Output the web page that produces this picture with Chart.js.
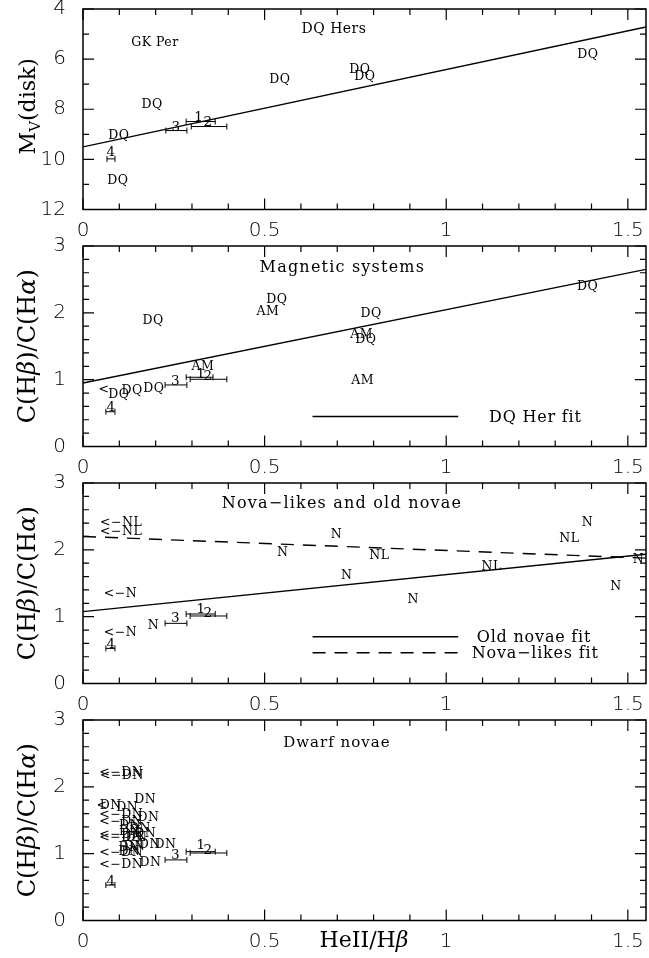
<!DOCTYPE html>
<html><head><meta charset="utf-8">
<script src="https://cdn.jsdelivr.net/npm/chart.js@4/dist/chart.umd.min.js"></script>
<style>
html,body{margin:0;padding:0;background:#fff;width:649px;height:958px;overflow:hidden}
canvas{position:absolute;left:0}
</style></head><body>
<canvas id="c1" width="649" height="237" style="top:0"></canvas>
<canvas id="c2" width="649" height="237" style="top:237px"></canvas>
<canvas id="c3" width="649" height="237" style="top:474px"></canvas>
<canvas id="c4" width="649" height="247" style="top:711px"></canvas>
<script>
// ---------- tick labels ----------
const xTicks = [0, 0.5, 1, 1.5];
const mvTicks = [4, 6, 8, 10, 12];
const ratioTicks = [0, 1, 2, 3];

// ---------- panel 1 : DQ Hers, Mv(disk) ----------
const dqMvLabels = [
  ['DQ', 0.542, 6.82], ['DQ', 0.19, 7.82], ['DQ', 0.099, 9.05], ['DQ', 0.096, 10.84],
  ['DQ', 0.762, 6.42], ['DQ', 0.776, 6.70], ['DQ', 1.39, 5.82], ['GK Per', 0.198, 5.34]
];
const dqMvFit = [{x: 0, y: 9.5}, {x: 1.55, y: 4.72}];
const dqMvErrBars = [[0.284, 0.364, 8.49], [0.298, 0.396, 8.69], [0.228, 0.286, 8.85], [0.066, 0.088, 9.98]];
const dqMvErrLabels = [['1', 0.319, 8.33], ['2', 0.344, 8.53], ['3', 0.256, 8.72], ['4', 0.077, 9.73]];

// ---------- panel 2 : Magnetic systems ----------
const magLabels = [
  ['DQ', 0.193, 1.88], ['DQ', 0.534, 2.19], ['AM', 0.509, 2.01], ['AM', 0.330, 1.19],
  ['DQ', 0.195, 0.87], ['DQ', 0.135, 0.84], ['<', 0.058, 0.85], ['DQ', 0.099, 0.77],
  ['DQ', 0.793, 1.99], ['AM', 0.767, 1.67], ['DQ', 0.779, 1.59], ['AM', 0.770, 0.98],
  ['DQ', 1.389, 2.39]
];
const magFit = [{x: 0, y: 0.95}, {x: 1.55, y: 2.65}];
const magLegendLine = [{x: 0.632, y: 0.448}, {x: 1.033, y: 0.448}];
const magErrBars = [[0.284, 0.358, 1.036], [0.295, 0.396, 1.006], [0.226, 0.286, 0.921], [0.063, 0.088, 0.52]];
const magErrLabels = [['1', 0.325, 1.08], ['2', 0.344, 1.045], ['3', 0.255, 0.97], ['4', 0.077, 0.58]];

// ---------- panel 3 : Nova-likes and old novae ----------
const novaLabels = [
  ['<\u2212NL', 0.105, 2.40], ['<\u2212NL', 0.105, 2.27], ['N', 0.55, 1.96], ['<\u2212N', 0.103, 1.34],
  ['N', 0.194, 0.864], ['<\u2212N', 0.103, 0.76], ['N', 0.698, 2.22], ['NL', 0.816, 1.91],
  ['N', 0.726, 1.61], ['N', 0.909, 1.26], ['NL', 1.125, 1.75], ['NL', 1.339, 2.16],
  ['N', 1.389, 2.40], ['N', 1.529, 1.85], ['N', 1.467, 1.45]
];
const oldNovaFit = [{x: 0, y: 1.075}, {x: 1.55, y: 1.935}];
const novaLikeFit = [{x: 0, y: 2.2}, {x: 1.55, y: 1.875}];
const oldNovaLegendLine = [{x: 0.632, y: 0.70}, {x: 1.033, y: 0.70}];
const novaLikeLegendLine = [{x: 0.632, y: 0.46}, {x: 1.033, y: 0.46}];
const novaErrBars = [[0.284, 0.364, 1.04], [0.295, 0.396, 1.01], [0.226, 0.286, 0.90], [0.063, 0.088, 0.525]];
const novaErrLabels = [['1', 0.325, 1.11], ['2', 0.344, 1.05], ['3', 0.255, 0.975], ['4', 0.077, 0.585]];

// ---------- panel 4 : Dwarf novae ----------
const dnLabels = [
  ['<\u2212DN', 0.105, 2.21], ['<\u2212DN', 0.107, 2.17], ['<', 0.052, 1.71], ['DN', 0.076, 1.71],
  ['DN', 0.122, 1.68], ['DN', 0.171, 1.80], ['<\u2212DN', 0.105, 1.58], ['DN', 0.18, 1.535],
  ['<\u2212DN', 0.105, 1.48], ['DN', 0.129, 1.415], ['DN', 0.157, 1.37], ['DN', 0.129, 1.325],
  ['DN', 0.171, 1.30], ['<\u2212DN', 0.105, 1.28], ['<\u2212DN', 0.105, 1.24], ['DN', 0.147, 1.237],
  ['DN', 0.142, 1.106], ['DN', 0.184, 1.13], ['DN', 0.227, 1.13], ['DN', 0.128, 1.087],
  ['<\u2212DN', 0.105, 1.007], ['DN', 0.128, 1.027], ['<\u2212DN', 0.105, 0.833], ['DN', 0.186, 0.867]
];
const dnErrBars = [[0.284, 0.364, 1.03], [0.295, 0.396, 1.01], [0.226, 0.286, 0.907], [0.063, 0.088, 0.53]];
const dnErrLabels = [['1', 0.325, 1.12], ['2', 0.344, 1.046], ['3', 0.255, 0.967], ['4', 0.077, 0.583]];

// ---------- drawing ----------
const SERIF = '"DejaVu Serif", serif';
const SANS = '"DejaVu Sans ExtraLight", "DejaVu Sans", sans-serif';
const xMinor = []; for (let i = 0; i <= 15; i++) xMinor.push(i / 10);
const mvMinor = []; for (let i = 4; i <= 12; i++) mvMinor.push(i);
const ratioMinor = []; for (let i = 0; i <= 15; i++) ratioMinor.push(i / 5);
const isMaj = (v, arr) => arr.some(t => Math.abs(t - v) < 1e-6);

function text(ctx, s, x, y, size, align, base) {
  ctx.font = size + 'px ' + SERIF;
  ctx.textAlign = align || 'center';
  ctx.textBaseline = base || 'middle';
  ctx.fillText(s, x, y);
}
function runs(ctx, parts, size) {
  let w = 0;
  parts.forEach(p => { ctx.font = (p[1] ? 'italic ' : '') + (p[2] || size) + 'px ' + SERIF; w += ctx.measureText(p[0]).width; });
  return w;
}
function drawRuns(ctx, parts, size, x0, base) {
  let x = x0;
  parts.forEach(p => {
    ctx.font = (p[1] ? 'italic ' : '') + (p[2] || size) + 'px ' + SERIF;
    ctx.textAlign = 'left'; ctx.textBaseline = 'alphabetic';
    ctx.fillText(p[0], x, base + (p[3] || 0));
    x += ctx.measureText(p[0]).width;
  });
}

function draw(chart, cfg) {
  const ctx = chart.ctx, xs = chart.scales.x, ys = chart.scales.y, a = chart.chartArea;
  const X = v => xs.getPixelForValue(v), Y = v => ys.getPixelForValue(v);
  ctx.save();
  ctx.strokeStyle = '#000'; ctx.fillStyle = '#000';
  ctx.lineWidth = 1.2;
  ctx.beginPath();
  xMinor.forEach(v => {
    const p = X(v), L = isMaj(v, xTicks) ? 11 : 6;
    ctx.moveTo(p, a.bottom); ctx.lineTo(p, a.bottom - L);
    ctx.moveTo(p, a.top); ctx.lineTo(p, a.top + L);
  });
  cfg.yMinor.forEach(v => {
    const p = Y(v), L = isMaj(v, cfg.yTicks) ? 11 : 6;
    ctx.moveTo(a.left, p); ctx.lineTo(a.left + L, p);
    ctx.moveTo(a.right, p); ctx.lineTo(a.right - L, p);
  });
  ctx.stroke();
  ctx.lineWidth = 1.5;
  ctx.strokeRect(a.left, a.top, a.right - a.left, a.bottom - a.top);
  ctx.lineWidth = 1;
  cfg.errs.forEach(([x0, x1, y]) => {
    const p0 = X(x0), p1 = X(x1), py = Y(y);
    ctx.beginPath();
    ctx.moveTo(p0, py); ctx.lineTo(p1, py);
    ctx.moveTo(p0, py - 3); ctx.lineTo(p0, py + 3);
    ctx.moveTo(p1, py - 3); ctx.lineTo(p1, py + 3);
    ctx.stroke();
  });
  ctx.letterSpacing = '0.5px';
  cfg.errLabels.forEach(([s, x, y]) => text(ctx, s, X(x), Y(y), 13.5));
  cfg.labels.forEach(([s, x, y]) => text(ctx, s, X(x), Y(y), 12.5));
  if (cfg.title) {
    ctx.letterSpacing = cfg.title[4] + 'px';
    text(ctx, cfg.title[0], X(cfg.title[1]), Y(cfg.title[2]), cfg.title[3]);
  }
  ctx.letterSpacing = '0.8px';
  (cfg.legend || []).forEach(([s, x, y]) => text(ctx, s, X(x), Y(y), 16, 'left'));
  ctx.letterSpacing = '0px';
  ctx.save();
  ctx.translate(35, (a.top + a.bottom) / 2 + (cfg.yTitleShift || 0));
  ctx.rotate(-Math.PI / 2);
  const w = runs(ctx, cfg.yTitle, cfg.yTitleSize);
  drawRuns(ctx, cfg.yTitle, cfg.yTitleSize, -w / 2, 0);
  ctx.restore();
  if (cfg.xTitle) {
    const w2 = runs(ctx, cfg.xTitle, 22);
    drawRuns(ctx, cfg.xTitle, 22, 364 - w2 / 2, a.bottom + 26);
  }
  ctx.restore();
}

function panel(id, cfg) {
  const datasets = cfg.lines.map(l => ({
    data: l.data, showLine: true, borderColor: '#000', borderWidth: 1.4,
    borderDash: l.dash || [], pointRadius: 0, fill: false, tension: 0
  }));
  new Chart(document.getElementById(id), {
    type: 'scatter',
    data: { datasets },
    options: {
      responsive: false, animation: false, events: [],
      layout: { padding: { top: 9, right: 3, left: 0, bottom: 0 } },
      plugins: { legend: { display: false }, tooltip: { enabled: false } },
      scales: {
        x: {
          type: 'linear', min: 0, max: 1.55,
          grid: { display: false, drawTicks: false }, border: { display: false },
          afterBuildTicks: s => { s.ticks = xTicks.map(v => ({ value: v })); },
          afterFit: s => { s.height = cfg.xh; s.paddingLeft = 0; s.paddingRight = 0; s.paddingTop = 0; s.paddingBottom = 0; },
          ticks: { font: { family: SANS, size: 20, weight: '300' }, color: '#000', padding: 9, maxRotation: 0, autoSkip: false,
                   callback: v => String(v) }
        },
        y: {
          type: 'linear', min: cfg.ymin, max: cfg.ymax, reverse: !!cfg.reverse,
          grid: { display: false, drawTicks: false }, border: { display: false },
          afterBuildTicks: s => { s.ticks = cfg.yTicks.map(v => ({ value: v })); },
          afterFit: s => { s.width = 83; s.paddingTop = 0; s.paddingBottom = 0; s.paddingLeft = 0; s.paddingRight = 0; },
          ticks: { font: { family: SANS, size: 20, weight: '300' }, color: '#000', padding: 17, autoSkip: false,
                   callback: v => String(v) }
        }
      }
    },
    plugins: [{ id: 'annot' + id, afterDraw: c => draw(c, cfg) }]
  });
}

const ratioTitle = [['C(H'], ['\u03B2', true], [')/C(H'], ['\u03B1', true], [')']];

panel('c1', {
  ymin: 4, ymax: 12, reverse: true, yTicks: mvTicks, yMinor: mvMinor, xh: 27.5,
  lines: [{ data: dqMvFit }],
  labels: dqMvLabels, errs: dqMvErrBars, errLabels: dqMvErrLabels,
  title: ['DQ Hers', 0.691, 4.83, 14, 0.5],
  yTitle: [['M'], ['V', false, 15, 5], ['(disk)']], yTitleSize: 22, yTitleShift: -3
});
panel('c2', {
  ymin: 0, ymax: 3, yTicks: ratioTicks, yMinor: ratioMinor, xh: 27.5,
  lines: [{ data: magFit }, { data: magLegendLine }],
  labels: magLabels, errs: magErrBars, errLabels: magErrLabels,
  title: ['Magnetic systems', 0.714, 2.67, 16, 1.2],
  legend: [['DQ Her fit', 1.118, 0.43]],
  yTitle: ratioTitle, yTitleSize: 24
});
panel('c3', {
  ymin: 0, ymax: 3, yTicks: ratioTicks, yMinor: ratioMinor, xh: 27.5,
  lines: [{ data: oldNovaFit }, { data: novaLikeFit, dash: [13, 9] },
          { data: oldNovaLegendLine }, { data: novaLikeLegendLine, dash: [13, 9] }],
  labels: novaLabels, errs: novaErrBars, errLabels: novaErrLabels,
  title: ['Nova\u2212likes and old novae', 0.713, 2.685, 16, 1.2],
  legend: [['Old novae fit', 1.084, 0.69], ['Nova\u2212likes fit', 1.07, 0.45]],
  yTitle: ratioTitle, yTitleSize: 24
});
panel('c4', {
  ymin: 0, ymax: 3, yTicks: ratioTicks, yMinor: ratioMinor, xh: 37.5,
  lines: [],
  labels: dnLabels, errs: dnErrBars, errLabels: dnErrLabels,
  title: ['Dwarf novae', 0.699, 2.66, 15, 1],
  yTitle: ratioTitle, yTitleSize: 24,
  xTitle: [['HeII/H'], ['\u03B2', true]]
});
</script>
</body></html>
